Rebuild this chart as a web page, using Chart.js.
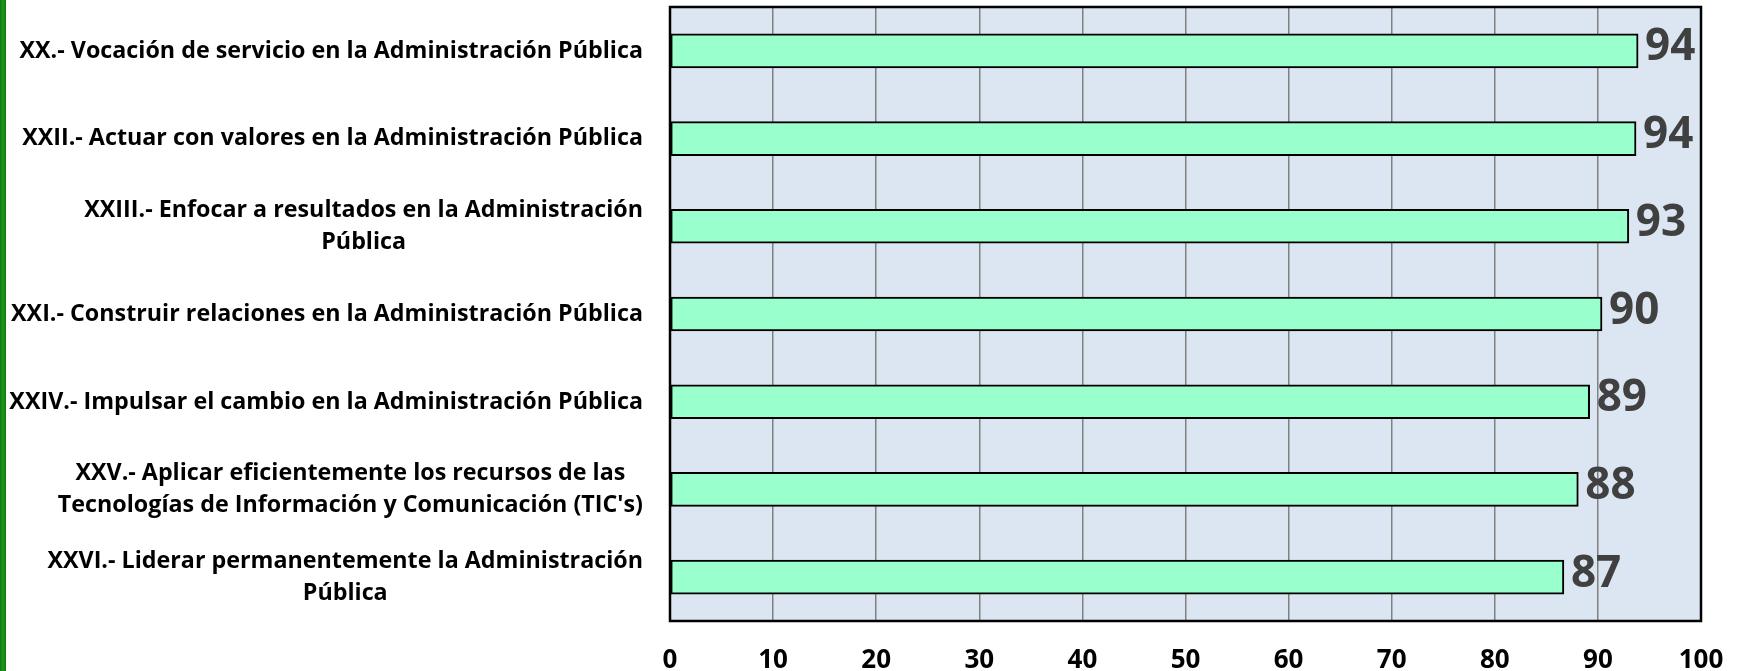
<!DOCTYPE html>
<html>
<head>
<meta charset="utf-8">
<script src="https://cdn.jsdelivr.net/npm/chart.js@4/dist/chart.umd.min.js"></script>
<style>
  body { margin: 0; background: #fff; }
  #wrap { position: relative; width: 1738px; height: 671px; }
  #edge { position: absolute; left: 0; top: 0; width: 6px; height: 671px;
          background: linear-gradient(to right, #0b7a0b, #1d9a1d, #0b7a0b); }
</style>
</head>
<body>
<div id="wrap">
  <canvas id="myChart" width="1738" height="671"></canvas>
  <div id="edge"></div>
</div>
<script>
// competencias - barras horizontales

const categories = [
    ['XX.- Vocación de servicio en la Administración Pública'],
    ['XXII.- Actuar con valores en la Administración Pública'],
    ['XXIII.- Enfocar a resultados en la Administración', 'Pública'],
    ['XXI.- Construir relaciones en la Administración Pública'],
    ['XXIV.- Impulsar el cambio en la Administración Pública'],
    ['XXV.- Aplicar eficientemente los recursos de las', "Tecnologías de Información y Comunicación (TIC's)"],
    ['XXVI.- Liderar permanentemente la Administración', 'Pública'],
]
const values = [93.9, 93.7, 93.0, 90.4, 89.2, 88.1, 86.7]
const xMin = 0
const xMax = 100
const xStep = 10

const LABEL_FONT = 'bold 24px "Open Sans"'
const LABEL_SCALE = 0.97   // squeeze a little, original font is calibri
const LINE_H = 32

const plotBackground = {
    id: 'plotBackground',
    beforeDraw: (chart) => {
        const { ctx, chartArea: a } = chart
        ctx.save()
        ctx.fillStyle = '#dce6f2'
        ctx.fillRect(a.left, a.top, a.right - a.left, a.bottom - a.top)
        ctx.restore()
    }
}

const plotFrame = {
    id: 'plotFrame',
    afterDatasetsDraw: (chart) => {
        const { ctx, chartArea: a } = chart
        ctx.save()
        ctx.strokeStyle = '#000'
        ctx.lineWidth = 2.5
        ctx.strokeRect(a.left, a.top, a.right - a.left, a.bottom - a.top)
        ctx.restore()
    }
}

// category labels: right aligned block, lines centred inside it
const categoryLabels = {
    id: 'categoryLabels',
    afterDraw: (chart) => {
        const { ctx } = chart
        const y = chart.scales.y
        ctx.save()
        ctx.font = LABEL_FONT
        ctx.fillStyle = '#000'
        ctx.textAlign = 'center'
        ctx.textBaseline = 'middle'
        categories.forEach((lines, i) => {
            const yc = y.getPixelForTick(i)
            const blockW = Math.max(...lines.map(l => ctx.measureText(l).width)) * LABEL_SCALE
            const cx = chart.chartArea.left - 27 - blockW / 2
            lines.forEach((line, j) => {
                const ly = yc + (j - (lines.length - 1) / 2) * LINE_H
                ctx.save()
                ctx.translate(cx, ly)
                ctx.scale(LABEL_SCALE, 1)
                ctx.fillText(line, 0, 0)
                ctx.restore()
            })
        })
        ctx.restore()
    }
}

const valueLabels = {
    id: 'valueLabels',
    afterDatasetsDraw: (chart) => {
        const { ctx } = chart
        const meta = chart.getDatasetMeta(0)
        ctx.save()
        ctx.font = 'bold 44px "Open Sans"'
        ctx.fillStyle = '#404040'
        ctx.textAlign = 'left'
        ctx.textBaseline = 'middle'
        meta.data.forEach((bar, i) => {
            ctx.fillText(Math.round(values[i]), bar.x + 7, bar.y - 3)
        })
        ctx.restore()
    }
}

const config = {
    type: 'bar',
    data: {
        labels: categories.map(c => c.join(' ')),
        datasets: [{
            data: values,
            backgroundColor: '#99ffcc',
            borderColor: '#000',
            borderWidth: 2,
            borderSkipped: false,
            barThickness: 34,
        }]
    },
    options: {
        indexAxis: 'y',
        responsive: false,
        animation: false,
        layout: { padding: { top: 7, right: 37, left: 0, bottom: 0 } },
        plugins: {
            legend: { display: false },
            tooltip: { enabled: false },
        },
        scales: {
            x: {
                min: xMin,
                max: xMax,
                ticks: {
                    stepSize: xStep,
                    color: '#000',
                    font: { family: 'Open Sans', weight: 'bold', size: 26 },
                    padding: 24,
                },
                grid: { color: '#808080', lineWidth: 1.5, drawTicks: false },
                border: { display: false },
                afterFit: (s) => {
                    s.height = 50
                    s.paddingLeft = 0
                    s.paddingRight = 0   // don't let the "100" label shrink the plot
                },
            },
            y: {
                ticks: { display: false },
                grid: { display: false },
                border: { display: false },
                afterFit: (s) => { s.width = 670 },
            }
        }
    },
    plugins: [plotBackground, plotFrame, valueLabels, categoryLabels]
}

new Chart(document.getElementById('myChart'), config)
</script>
</body>
</html>
